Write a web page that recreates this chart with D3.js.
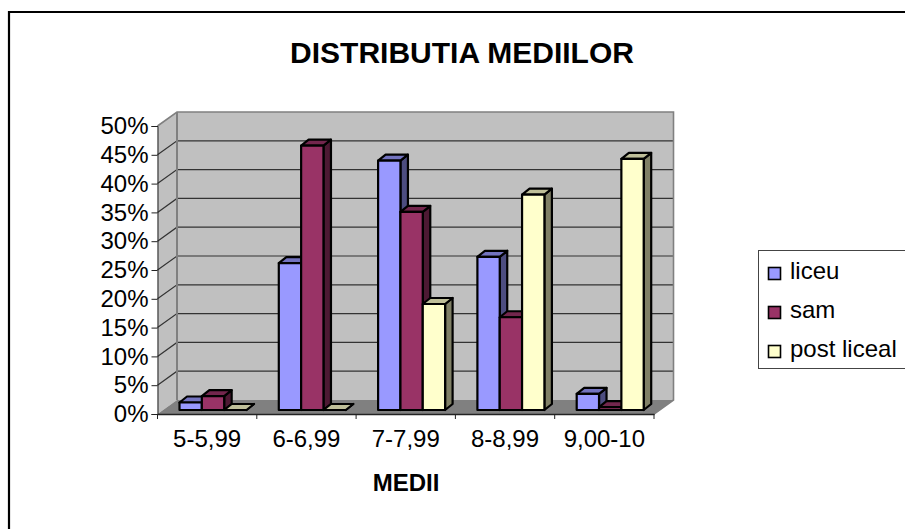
<!DOCTYPE html>
<html>

<head>
    <title>Distributia mediilor</title>
    <script src="https://d3js.org/d3.v7.min.js" charset="utf-8"></script>
    <style>
        html,
        body {
            margin: 0;
            padding: 0;
            background: #fff;
        }

        svg {
            display: block;
        }

        text {
            font-family: "Liberation Sans", Arial, sans-serif;
            fill: #000;
        }
    </style>
</head>

<body>
    <script>
        const categories = ["5-5,99", "6-6,99", "7-7,99", "8-8,99", "9,00-10"];
        const seriesNames = ["liceu", "sam", "post liceal"];
        const liceu = [1.3, 25.5, 43.3, 26.6, 2.8];
        const sam = [2.4, 45.9, 34.4, 16.1, 0.5];
        const postLiceal = [0, 0, 18.4, 37.4, 43.6];
        const yTicks = [0, 5, 10, 15, 20, 25, 30, 35, 40, 45, 50];

        const seriesValues = [liceu, sam, postLiceal];
        const faceColors = [
            { front: "#9999ff", top: "#7373bf", side: "#4d4d80" },
            { front: "#993366", top: "#73264d", side: "#4d1933" },
            { front: "#ffffcc", top: "#bfbf99", side: "#808066" }
        ];

        const width = 905;
        const height = 529;
        const depthX = 19.5;
        const depthY = 14;

        const svg = d3.select("body")
            .append("svg")
            .attr("width", width)
            .attr("height", height);

        // outer frame, runs off the page on the right and bottom
        svg.append("path")
            .attr("d", "M905,12H9V529")
            .attr("fill", "none")
            .attr("stroke", "#000")
            .attr("stroke-width", 2.2);

        const x = d3.scaleBand()
            .domain(categories)
            .range([157.5, 654]);
        const y = d3.scaleLinear()
            .domain([0, 50])
            .range([414, 126]);
        const inner = d3.scaleBand()
            .domain(seriesNames)
            .range([22, 89]);

        const plot = svg.append("g");

        // side wall, floor, back wall
        const x0 = x.range()[0], x1 = x.range()[1];
        const line = d3.line();
        plot.append("path")
            .attr("d", line([[x0, y(0)], [x0, y(50)], [x0 + depthX, y(50) - depthY], [x0 + depthX, y(0) - depthY]]) + "Z")
            .attr("fill", "#c0c0c0");
        plot.append("path")
            .attr("d", line([[x0, y(0)], [x1, y(0)], [x1 + depthX, y(0) - depthY], [x0 + depthX, y(0) - depthY]]) + "Z")
            .attr("fill", "#808080");
        plot.append("rect")
            .attr("x", x0 + depthX)
            .attr("y", y(50) - depthY)
            .attr("width", x1 - x0)
            .attr("height", y(0) - y(50))
            .attr("fill", "#c0c0c0");

        // gridlines on back wall and side wall
        plot.selectAll(".grid")
            .data(yTicks.slice(1, -1))
            .enter()
            .append("path")
            .attr("class", "grid")
            .attr("d", d => line([[x0, y(d)], [x0 + depthX, y(d) - depthY], [x1 + depthX, y(d) - depthY]]))
            .attr("fill", "none")
            .attr("stroke", "#333")
            .attr("stroke-width", 1.2);

        // wall edges
        plot.append("path")
            .attr("d", line([[x0, y(50)], [x0 + depthX, y(50) - depthY], [x1 + depthX, y(50) - depthY], [x1 + depthX, y(0) - depthY], [x1, y(0)]]))
            .attr("fill", "none")
            .attr("stroke", "#808080")
            .attr("stroke-width", 1.6);
        plot.append("path")
            .attr("d", line([[x0 + depthX, y(50) - depthY], [x0 + depthX, y(0) - depthY]]))
            .attr("fill", "none")
            .attr("stroke", "#808080")
            .attr("stroke-width", 2);

        // axes
        const yAxis = d3.axisLeft(y)
            .tickValues(yTicks)
            .tickFormat(d => d + "%")
            .tickSize(6)
            .tickPadding(3);
        const yG = svg.append("g")
            .attr("transform", `translate(${x0},0)`)
            .call(yAxis);
        yG.selectAll("text").attr("font-size", 24).style("font-family", '"Liberation Sans"');
        yG.selectAll("line,path").attr("stroke", "#222");

        const xAxis = d3.axisBottom(x)
            .tickSize(0)
            .tickPadding(16);
        const xG = svg.append("g")
            .attr("transform", `translate(0,${y(0)})`)
            .call(xAxis);
        xG.selectAll("text").attr("font-size", 24).style("font-family", '"Liberation Sans"');
        xG.selectAll("path").attr("stroke", "#222").attr("stroke-width", 1.4);
        xG.selectAll(".edge")
            .data(d3.range(categories.length + 1))
            .enter()
            .append("line")
            .attr("class", "edge")
            .attr("x1", d => x0 + d * x.bandwidth())
            .attr("x2", d => x0 + d * x.bandwidth())
            .attr("y1", 0)
            .attr("y2", 5)
            .attr("stroke", "#222");

        // bars, drawn left to right so later ones cover earlier side faces
        const barBase = 410;
        const barDepthX = 7.5;
        const barDepthY = 6;
        const barScale = (y(0) - y(50)) / 50;
        const bars = [];
        categories.forEach((c, i) => {
            seriesNames.forEach((s, j) => {
                bars.push({ c, s, j, v: seriesValues[j][i] });
            });
        });
        const bar = plot.selectAll(".bar")
            .data(bars)
            .enter()
            .append("g")
            .attr("class", "bar")
            .attr("stroke", "#000")
            .attr("stroke-width", 2.2)
            .attr("stroke-linejoin", "round");
        const barLeft = d => x(d.c) + inner(d.s);
        const barRight = d => barLeft(d) + inner.bandwidth();
        const barTop = d => barBase - d.v * barScale;
        bar.append("path")
            .attr("fill", d => faceColors[d.j].side)
            .attr("d", d => line([[barRight(d), barTop(d)], [barRight(d) + barDepthX, barTop(d) - barDepthY], [barRight(d) + barDepthX, barBase - barDepthY], [barRight(d), barBase]]) + "Z");
        bar.append("path")
            .attr("fill", d => faceColors[d.j].top)
            .attr("d", d => line([[barLeft(d), barTop(d)], [barLeft(d) + barDepthX, barTop(d) - barDepthY], [barRight(d) + barDepthX, barTop(d) - barDepthY], [barRight(d), barTop(d)]]) + "Z");
        bar.append("rect")
            .attr("fill", d => faceColors[d.j].front)
            .attr("x", barLeft)
            .attr("y", barTop)
            .attr("width", inner.bandwidth())
            .attr("height", d => barBase - barTop(d));

        // titles
        svg.append("text")
            .attr("x", 462)
            .attr("y", 63)
            .attr("text-anchor", "middle")
            .attr("font-size", 30)
            .attr("font-weight", "bold")
            .text("DISTRIBUTIA MEDIILOR");
        svg.append("text")
            .attr("x", 406)
            .attr("y", 491)
            .attr("text-anchor", "middle")
            .attr("font-size", 24)
            .attr("font-weight", "bold")
            .text("MEDII");

        // legend
        const legend = svg.append("g");
        legend.append("rect")
            .attr("x", 758.5)
            .attr("y", 250.5)
            .attr("width", 148)
            .attr("height", 118)
            .attr("fill", "#fff")
            .attr("stroke", "#444");
        const legendItem = legend.selectAll(".item")
            .data(seriesNames)
            .enter()
            .append("g")
            .attr("class", "item")
            .attr("transform", (d, i) => `translate(768.5,${267.5 + i * 39})`);
        legendItem.append("rect")
            .attr("width", 12)
            .attr("height", 12)
            .attr("fill", (d, i) => faceColors[i].front)
            .attr("stroke", "#000")
            .attr("stroke-width", 1.6);
        legendItem.append("text")
            .attr("x", 21.5)
            .attr("y", 11)
            .attr("font-size", 24)
            .text(d => d);
    </script>
</body>

</html>
